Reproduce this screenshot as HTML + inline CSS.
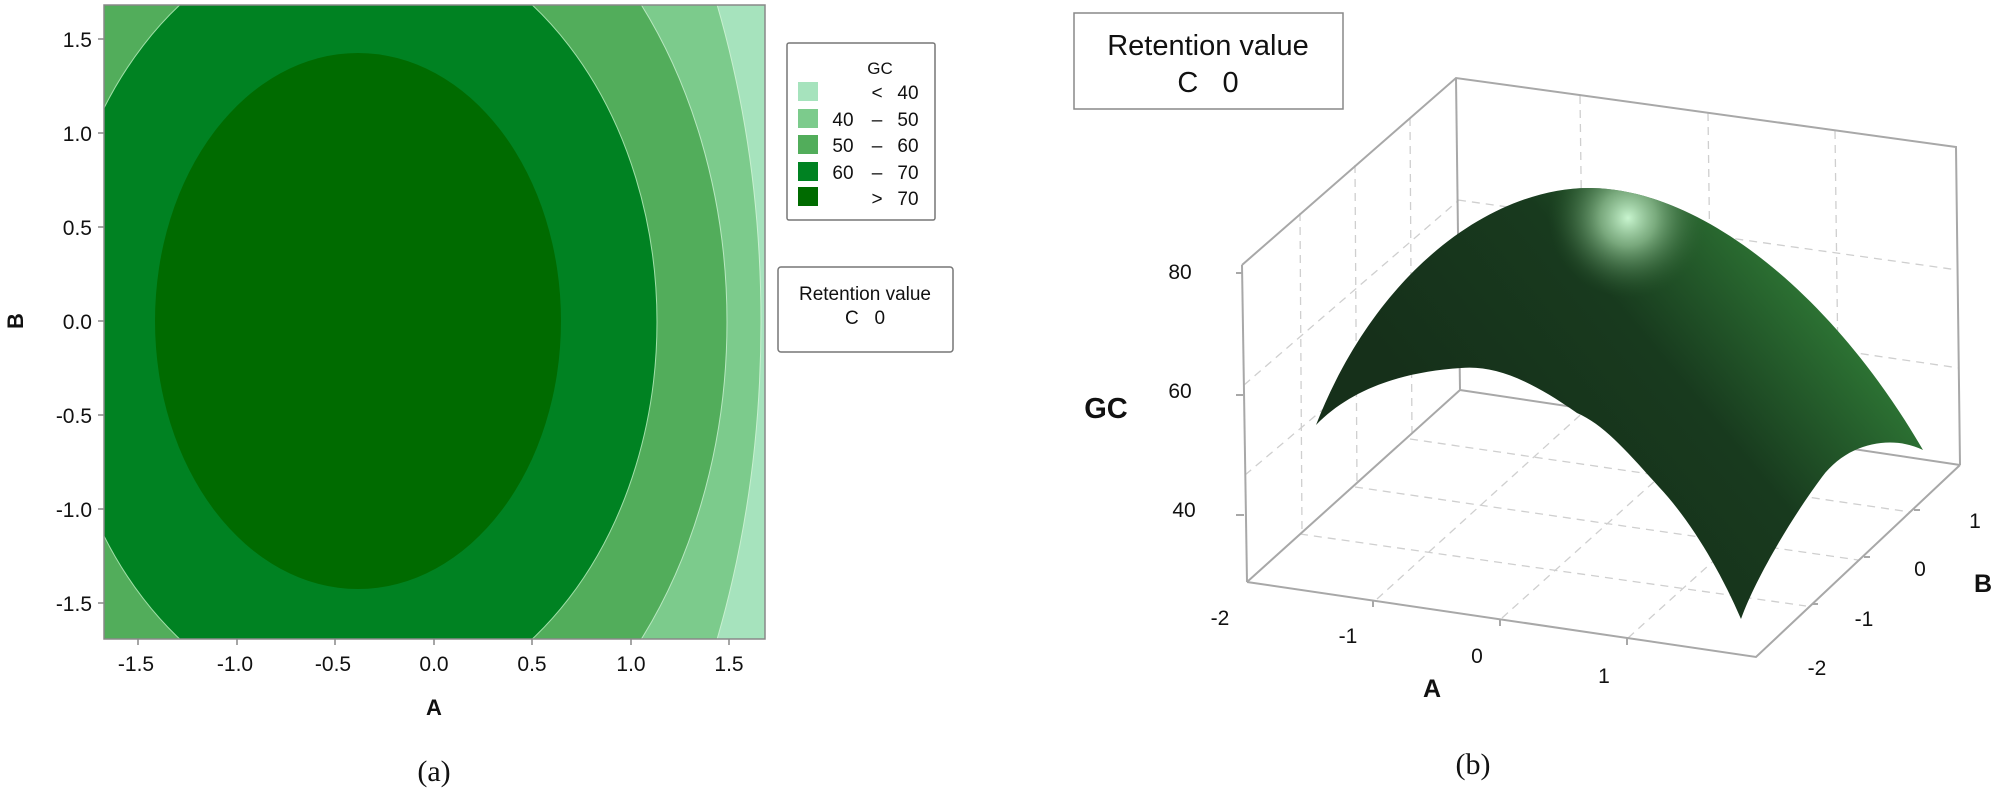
<!DOCTYPE html>
<html><head><meta charset="utf-8"><style>
html,body{margin:0;padding:0;background:#fff;width:2000px;height:795px;overflow:hidden;}
svg{display:block;}
text{font-family:"Liberation Sans",sans-serif;}
</style></head><body>
<svg width="2000" height="795" viewBox="0 0 2000 795" xmlns="http://www.w3.org/2000/svg">
<defs>
<clipPath id="pc"><rect x="104" y="5" width="661" height="634"/></clipPath>
<radialGradient id="hl" cx="1628" cy="218" r="80" gradientUnits="userSpaceOnUse">
<stop offset="0" stop-color="#c8f5cf"/><stop offset="0.35" stop-color="#8fbf92" stop-opacity="0.8"/><stop offset="1" stop-color="#2a5a2e" stop-opacity="0"/></radialGradient>
<linearGradient id="sg" x1="1500" y1="500" x2="1800" y2="250" gradientUnits="userSpaceOnUse">
<stop offset="0" stop-color="#16301a"/><stop offset="0.55" stop-color="#183a1e"/><stop offset="1" stop-color="#2f7a36"/></linearGradient>
</defs>

<g clip-path="url(#pc)">
<rect x="104" y="5" width="661" height="634" fill="#a6e3bd"/>
<ellipse cx="356" cy="322" rx="405" ry="700" fill="#7ccb8c" stroke="#c8f0d0" stroke-width="1"/>
<ellipse cx="356" cy="322" rx="371" ry="496" fill="#52ad5b" stroke="#b8e8c0" stroke-width="1"/>
<ellipse cx="356" cy="322" rx="301" ry="391" fill="#008222" stroke="#a0e0a8" stroke-width="1"/>
<ellipse cx="358" cy="321" rx="203" ry="268" fill="#006b00"/>
</g>
<rect x="104" y="5" width="661" height="634" fill="none" stroke="#888" stroke-width="1.5"/>
<g stroke="#888" stroke-width="1.5">
<line x1="98" y1="39" x2="104" y2="39"/><line x1="98" y1="133" x2="104" y2="133"/><line x1="98" y1="227" x2="104" y2="227"/><line x1="98" y1="321" x2="104" y2="321"/><line x1="98" y1="415" x2="104" y2="415"/><line x1="98" y1="509" x2="104" y2="509"/><line x1="98" y1="603" x2="104" y2="603"/>
<line x1="138" y1="639" x2="138" y2="645"/><line x1="237" y1="639" x2="237" y2="645"/><line x1="335" y1="639" x2="335" y2="645"/><line x1="434" y1="639" x2="434" y2="645"/><line x1="532" y1="639" x2="532" y2="645"/><line x1="631" y1="639" x2="631" y2="645"/><line x1="729" y1="639" x2="729" y2="645"/>
</g>
<g font-size="21" fill="#111" text-anchor="end">
<text x="92" y="47">1.5</text><text x="92" y="141">1.0</text><text x="92" y="235">0.5</text><text x="92" y="329">0.0</text><text x="92" y="423">-0.5</text><text x="92" y="517">-1.0</text><text x="92" y="611">-1.5</text>
</g>
<g font-size="21" fill="#111" text-anchor="middle">
<text x="136" y="671">-1.5</text><text x="235" y="671">-1.0</text><text x="333" y="671">-0.5</text><text x="434" y="671">0.0</text><text x="532" y="671">0.5</text><text x="631" y="671">1.0</text><text x="729" y="671">1.5</text>
</g>
<text x="434" y="715" font-size="22" font-weight="bold" text-anchor="middle" fill="#111">A</text>
<text transform="translate(23,321) rotate(-90)" font-size="22" font-weight="bold" text-anchor="middle" fill="#111">B</text>
<text x="434" y="781" font-size="30" text-anchor="middle" fill="#111" style="font-family:'Liberation Serif',serif">(a)</text>

<rect x="787" y="43" width="148" height="177" fill="#fff" stroke="#777" stroke-width="1.5" rx="2"/>
<text x="880" y="74" font-size="17" text-anchor="middle" fill="#111">GC</text>
<rect x="798" y="82" width="20" height="19" fill="#a6e3bd"/>
<rect x="798" y="109" width="20" height="19" fill="#7ccb8c"/>
<rect x="798" y="135" width="20" height="19" fill="#52ad5b"/>
<rect x="798" y="162" width="20" height="19" fill="#008222"/>
<rect x="798" y="187" width="20" height="19" fill="#006b00"/>
<g font-size="19" fill="#111" text-anchor="middle">
<text x="877" y="99">&lt;</text><text x="908" y="99">40</text>
<text x="843" y="126">40</text><text x="877" y="126">–</text><text x="908" y="126">50</text>
<text x="843" y="152">50</text><text x="877" y="152">–</text><text x="908" y="152">60</text>
<text x="843" y="179">60</text><text x="877" y="179">–</text><text x="908" y="179">70</text>
<text x="877" y="205">&gt;</text><text x="908" y="205">70</text>
</g>
<rect x="778" y="267" width="175" height="85" fill="#fff" stroke="#777" stroke-width="1.5" rx="3"/>
<text x="865" y="300" font-size="19" text-anchor="middle" fill="#111">Retention value</text>
<text x="865" y="324" font-size="19" text-anchor="middle" fill="#111" xml:space="preserve">C   0</text>

<rect x="1074" y="13" width="269" height="96" fill="#fff" stroke="#888" stroke-width="1.5"/>
<text x="1208" y="55" font-size="29" text-anchor="middle" fill="#111">Retention value</text>
<text x="1208" y="92" font-size="29" text-anchor="middle" fill="#111" xml:space="preserve">C   0</text>

<g stroke="#cfcfcf" stroke-width="1.3" stroke-dasharray="8,6" fill="none">
<line x1="1580" y1="96" x2="1584" y2="407"/><line x1="1708" y1="113" x2="1712" y2="426"/><line x1="1835" y1="131" x2="1839" y2="446"/>
<line x1="1458" y1="200" x2="1958" y2="270"/><line x1="1459" y1="295" x2="1959" y2="368"/>
<line x1="1300" y1="213" x2="1302" y2="533"/><line x1="1355" y1="165" x2="1357" y2="486"/><line x1="1410" y1="118" x2="1412" y2="438"/>
<line x1="1244" y1="385" x2="1459" y2="200"/><line x1="1245" y1="475" x2="1459" y2="295"/>
<line x1="1377" y1="599" x2="1588" y2="408"/><line x1="1502" y1="618" x2="1714" y2="428"/><line x1="1628" y1="638" x2="1840" y2="447"/>
<line x1="1300" y1="534" x2="1806" y2="606"/><line x1="1355" y1="487" x2="1858" y2="560"/><line x1="1410" y1="439" x2="1910" y2="512"/>
</g>
<g stroke="#a8a8a8" stroke-width="2" fill="none">
<polyline points="1242,265 1456,78 1956,147 1960,465"/>
<line x1="1456" y1="78" x2="1460" y2="390"/>
<line x1="1242" y1="265" x2="1247" y2="582"/>
<line x1="1247" y1="582" x2="1460" y2="390"/>
<line x1="1460" y1="390" x2="1960" y2="465"/>
<polyline points="1247,582 1756,657 1960,465"/>
<line x1="1236" y1="273" x2="1242" y2="273"/><line x1="1236" y1="395" x2="1243" y2="395"/><line x1="1236" y1="515" x2="1244" y2="515"/>
<line x1="1373" y1="600" x2="1373" y2="607"/><line x1="1500" y1="619" x2="1500" y2="626"/><line x1="1627" y1="638" x2="1627" y2="645"/>
<line x1="1812" y1="604" x2="1818" y2="604"/><line x1="1864" y1="557" x2="1870" y2="557"/><line x1="1914" y1="510" x2="1920" y2="510"/>
</g>
<path d="M1316,425 C1380,262 1500,186 1592,188 C1700,190 1830,290 1923,450 C1895,436 1850,440 1822,477 C1790,520 1755,580 1741,619 C1720,570 1690,520 1659,487 C1630,455 1605,425 1577,413 C1530,380 1495,365 1461,368 C1400,372 1350,390 1316,425 Z" fill="url(#sg)"/>
<path d="M1316,425 C1380,262 1500,186 1592,188 C1700,190 1830,290 1923,450 C1895,436 1850,440 1822,477 C1790,520 1755,580 1741,619 C1720,570 1690,520 1659,487 C1630,455 1605,425 1577,413 C1530,380 1495,365 1461,368 C1400,372 1350,390 1316,425 Z" fill="url(#hl)"/>

<g font-size="21" fill="#111" text-anchor="middle">
<text x="1180" y="279">80</text><text x="1180" y="398">60</text><text x="1184" y="517">40</text>
<text x="1220" y="625">-2</text><text x="1348" y="643">-1</text><text x="1477" y="663">0</text><text x="1604" y="683">1</text>
<text x="1817" y="675">-2</text><text x="1864" y="626">-1</text><text x="1920" y="576">0</text><text x="1975" y="528">1</text>
</g>
<text x="1106" y="418" font-size="29" font-weight="bold" text-anchor="middle" fill="#111">GC</text>
<text x="1432" y="697" font-size="25" font-weight="bold" text-anchor="middle" fill="#111">A</text>
<text x="1983" y="592" font-size="25" font-weight="bold" text-anchor="middle" fill="#111">B</text>
<text x="1473" y="774" font-size="30" text-anchor="middle" fill="#111" style="font-family:'Liberation Serif',serif">(b)</text>
</svg>
</body></html>
